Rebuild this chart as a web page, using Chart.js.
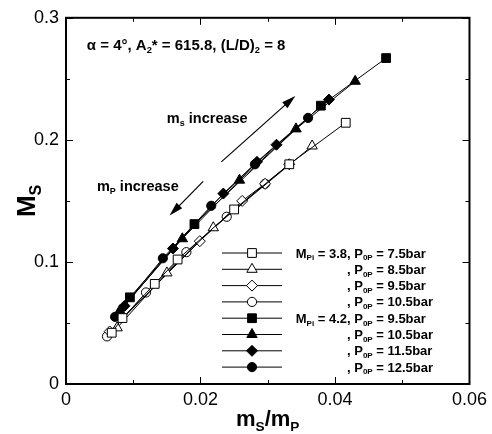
<!DOCTYPE html>
<html>
<head>
<meta charset="utf-8">
<script src="https://cdn.jsdelivr.net/npm/chart.js@4.4.1/dist/chart.umd.min.js"></script>
<style>
  html, body { margin: 0; padding: 0; background: #fff; }
</style>
</head>
<body>
<canvas id="msChart" width="492" height="434"></canvas>
<script>
// M_Pi = 3.8 (open markers)
const p75X = [0.0068, 0.0084, 0.0132, 0.0166, 0.0250, 0.0332, 0.0416];
const p75Y = [0.042, 0.054, 0.082, 0.102, 0.143, 0.180, 0.214];
const p85X = [0.0076, 0.0150, 0.0219, 0.0366];
const p85Y = [0.046, 0.091, 0.128, 0.195];
const p95X = [0.0065, 0.0199, 0.0262, 0.0296, 0.0332];
const p95Y = [0.043, 0.117, 0.150, 0.164, 0.180];
const p105X = [0.0061, 0.0119, 0.0179, 0.0239, 0.0296];
const p105Y = [0.039, 0.075, 0.108, 0.137, 0.164];

// M_Pi = 4.2 (filled markers)
const h95X = [0.0095, 0.0191, 0.0379, 0.0476];
const h95Y = [0.071, 0.131, 0.228, 0.267];
const h105X = [0.0080, 0.0173, 0.0258, 0.0342, 0.0430];
const h105Y = [0.060, 0.119, 0.167, 0.209, 0.248];
const h115X = [0.0087, 0.0159, 0.0234, 0.0284, 0.0313, 0.0391];
const h115Y = [0.064, 0.111, 0.156, 0.182, 0.196, 0.233];
const h125X = [0.0073, 0.0144, 0.0216, 0.0281, 0.0360];
const h125Y = [0.055, 0.103, 0.146, 0.180, 0.218];

const xTicks = [0, 0.02, 0.04, 0.06];
const yTicks = [0, 0.1, 0.2, 0.3];

const legendMach = ['3.8', '', '', '', '4.2', '', '', ''];
const legendPress = ['7.5', '8.5', '9.5', '10.5', '9.5', '10.5', '11.5', '12.5'];

const FONT = '"Liberation Sans", Arial, Helvetica, sans-serif';

function pts(xs, ys) {
  return xs.map((x, i) => ({ x: x, y: ys[i] }));
}

function series(xs, ys, style, filled, r) {
  return {
    data: pts(xs, ys),
    showLine: true,
    borderColor: '#000',
    borderWidth: 1,
    pointStyle: style,
    pointRadius: r,
    pointBorderWidth: 1,
    pointBorderColor: '#000',
    pointBackgroundColor: filled ? '#000' : '#fff',
    backgroundColor: filled ? '#000' : '#fff'
  };
}

function marker(ctx, style, r, x, y, filled) {
  ctx.beginPath();
  if (style === 'circle') {
    ctx.arc(x, y, r, 0, Math.PI * 2);
  } else if (style === 'rect') {
    const s = r * Math.SQRT1_2;
    ctx.rect(x - s, y - s, 2 * s, 2 * s);
  } else if (style === 'rectRot') {
    ctx.moveTo(x, y - r); ctx.lineTo(x + r, y); ctx.lineTo(x, y + r); ctx.lineTo(x - r, y);
  } else {
    ctx.moveTo(x, y - r);
    ctx.lineTo(x + Math.sin(Math.PI * 2 / 3) * r, y - Math.cos(Math.PI * 2 / 3) * r);
    ctx.lineTo(x + Math.sin(Math.PI * 4 / 3) * r, y - Math.cos(Math.PI * 4 / 3) * r);
  }
  ctx.closePath();
  ctx.fillStyle = filled ? '#000' : '#fff';
  ctx.fill();
  ctx.strokeStyle = '#000';
  ctx.lineWidth = 1;
  ctx.stroke();
}

// parts: [text, isSub]
function richWidth(ctx, parts, size) {
  let w = 0;
  parts.forEach(p => {
    ctx.font = 'bold ' + (p[1] ? size * 0.62 : size) + 'px ' + FONT;
    w += ctx.measureText(p[0]).width;
  });
  return w;
}

function drawRich(ctx, parts, x, y, size) {
  ctx.textBaseline = 'alphabetic';
  ctx.textAlign = 'left';
  ctx.fillStyle = '#000';
  parts.forEach(p => {
    const s = p[1] ? size * 0.62 : size;
    ctx.font = 'bold ' + s + 'px ' + FONT;
    ctx.fillText(p[0], x, p[1] ? y + size * 0.22 : y);
    x += ctx.measureText(p[0]).width;
  });
}

function arrow(ctx, x1, y1, x2, y2) {
  const a = Math.atan2(y2 - y1, x2 - x1);
  const len = 14, half = 4;
  ctx.strokeStyle = '#000';
  ctx.lineWidth = 1.2;
  ctx.beginPath();
  ctx.moveTo(x1, y1);
  ctx.lineTo(x2 - Math.cos(a) * len * 0.8, y2 - Math.sin(a) * len * 0.8);
  ctx.stroke();
  ctx.beginPath();
  ctx.moveTo(x2, y2);
  ctx.lineTo(x2 - Math.cos(a) * len - Math.sin(a) * half, y2 - Math.sin(a) * len + Math.cos(a) * half);
  ctx.lineTo(x2 - Math.cos(a) * len + Math.sin(a) * half, y2 - Math.sin(a) * len - Math.cos(a) * half);
  ctx.closePath();
  ctx.fillStyle = '#000';
  ctx.fill();
}

const decorations = {
  id: 'decorations',
  afterDraw(chart) {
    const ctx = chart.ctx;
    const { left, right, top, bottom } = chart.chartArea;
    const sx = chart.scales.x, sy = chart.scales.y;
    ctx.save();

    // frame
    ctx.strokeStyle = '#000';
    ctx.lineWidth = 2;
    ctx.strokeRect(left, top, right - left, bottom - top);

    // inward ticks on all four sides
    ctx.lineWidth = 1;
    ctx.beginPath();
    for (let v = 0; v <= 0.0601; v += 0.01) {
      const px = Math.round(sx.getPixelForValue(v)) + 0.5;
      const len = Math.round(v * 100) % 2 === 0 ? 7 : 4;
      ctx.moveTo(px, bottom); ctx.lineTo(px, bottom - len);
      ctx.moveTo(px, top); ctx.lineTo(px, top + len);
    }
    for (let v = 0; v <= 0.3001; v += 0.05) {
      const py = Math.round(sy.getPixelForValue(v)) + 0.5;
      const len = Math.round(v * 100) % 10 === 0 ? 7 : 4;
      ctx.moveTo(left, py); ctx.lineTo(left + len, py);
      ctx.moveTo(right, py); ctx.lineTo(right - len, py);
    }
    ctx.stroke();

    // axis titles
    const xt = [['m', false], ['S', true], ['/m', false], ['P', true]];
    const xw = richWidth(ctx, xt, 22);
    drawRich(ctx, xt, (left + right) / 2 - xw / 2, 426, 22);

    const yt = [['M', false], ['S', true]];
    const yw = richWidth(ctx, yt, 26);
    ctx.save();
    ctx.translate(35, (top + bottom) / 2);
    ctx.rotate(-Math.PI / 2);
    drawRich(ctx, yt, -yw / 2, 0, 26);
    ctx.restore();

    // header text
    drawRich(ctx, [['\u03b1 = 4\u00b0, A', false], ['2', true], ['* = 615.8, (L/D)', false], ['2', true], [' = 8', false]],
      sx.getPixelForValue(0.0031), sy.getPixelForValue(0.274), 15);
    drawRich(ctx, [['m', false], ['s', true], [' increase', false]],
      sx.getPixelForValue(0.0150), sy.getPixelForValue(0.2138), 14.5);
    drawRich(ctx, [['m', false], ['P', true], [' increase', false]],
      sx.getPixelForValue(0.0046), sy.getPixelForValue(0.1585), 14.5);

    // arrows
    arrow(ctx, sx.getPixelForValue(0.0231), sy.getPixelForValue(0.182),
      sx.getPixelForValue(0.0341), sy.getPixelForValue(0.236));
    arrow(ctx, sx.getPixelForValue(0.0204), sy.getPixelForValue(0.166),
      sx.getPixelForValue(0.0154), sy.getPixelForValue(0.138));

    // legend
    const rowY0 = 253, rowDy = 16.3;
    chart.data.datasets.forEach((ds, i) => {
      const y = rowY0 + i * rowDy;
      ctx.strokeStyle = '#000';
      ctx.lineWidth = 1;
      ctx.beginPath();
      ctx.moveTo(222, y); ctx.lineTo(282, y);
      ctx.stroke();
      marker(ctx, ds.pointStyle, ds.pointRadius, 252, y, ds.pointBackgroundColor === '#000');
      const base = y + 4.5;
      const commaX = 347;
      if (legendMach[i]) {
        const pre = [['M', false], ['Pi', true], [' = ' + legendMach[i], false]];
        drawRich(ctx, pre, commaX - richWidth(ctx, pre, 13), base, 13);
      }
      drawRich(ctx, [[', P', false], ['0P', true], [' = ' + legendPress[i] + 'bar', false]], commaX, base, 13);
    });

    ctx.restore();
  }
};

new Chart(document.getElementById('msChart').getContext('2d'), {
  type: 'scatter',
  data: {
    datasets: [
      series(p75X, p75Y, 'rect', false, 6.2),
      series(p85X, p85Y, 'triangle', false, 6),
      series(p95X, p95Y, 'rectRot', false, 5.5),
      series(p105X, p105Y, 'circle', false, 4.6),
      series(h95X, h95Y, 'rect', true, 6.2),
      series(h105X, h105Y, 'triangle', true, 6),
      series(h115X, h115Y, 'rectRot', true, 5.5),
      series(h125X, h125Y, 'circle', true, 4.6)
    ]
  },
  options: {
    responsive: false,
    animation: false,
    devicePixelRatio: 1,
    layout: { padding: { top: 15, right: 21, left: 0, bottom: 0 } },
    plugins: {
      legend: { display: false },
      tooltip: { enabled: false }
    },
    scales: {
      x: {
        type: 'linear',
        min: 0, max: 0.06,
        afterFit: s => { s.height = 50; },
        afterBuildTicks: s => { s.ticks = xTicks.map(v => ({ value: v })); },
        grid: { display: false, drawTicks: false },
        border: { display: false },
        ticks: {
          padding: 5,
          color: '#000',
          font: { family: FONT, size: 18 },
          callback: v => String(Number(v.toFixed(2)))
        }
      },
      y: {
        type: 'linear',
        min: 0, max: 0.3,
        afterFit: s => { s.width = 66; },
        afterBuildTicks: s => { s.ticks = yTicks.map(v => ({ value: v })); },
        grid: { display: false, drawTicks: false },
        border: { display: false },
        ticks: {
          padding: 7,
          color: '#000',
          font: { family: FONT, size: 18 },
          callback: v => String(Number(v.toFixed(2)))
        }
      }
    }
  },
  plugins: [decorations]
});
</script>
</body>
</html>
